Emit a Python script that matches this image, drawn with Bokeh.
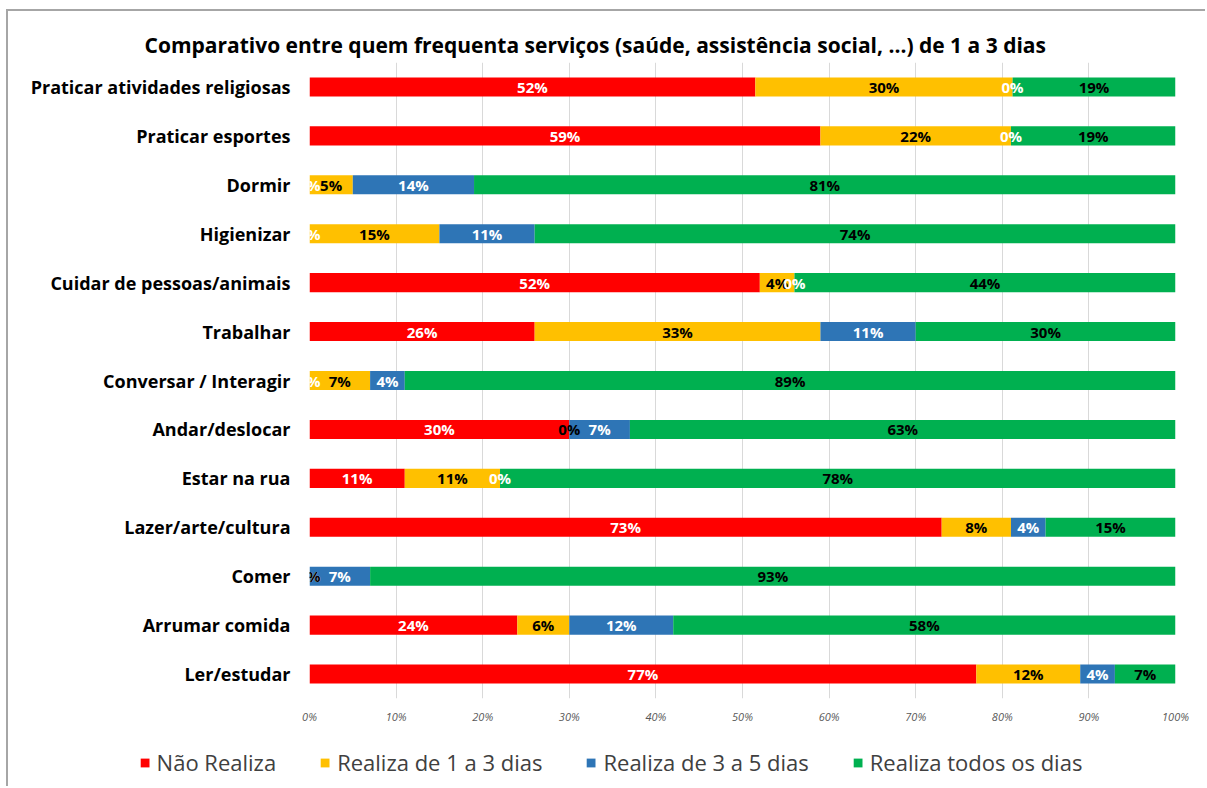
from bokeh.plotting import figure
from bokeh.layouts import column
from bokeh.models import ColumnDataSource, FactorRange, Legend, LegendItem, FixedTicker, CustomJSTickFormatter
from bokeh.core.properties import value
from bokeh.embed import file_html
from bokeh.resources import INLINE

title_text = "Comparativo entre quem frequenta serviços (saúde, assistência social, ...) de 1 a 3 dias"

categories = [
    "Praticar atividades religiosas",
    "Praticar esportes",
    "Dormir",
    "Higienizar",
    "Cuidar de pessoas/animais",
    "Trabalhar",
    "Conversar / Interagir",
    "Andar/deslocar",
    "Estar na rua",
    "Lazer/arte/cultura",
    "Comer",
    "Arrumar comida",
    "Ler/estudar",
]

series_names = ["Não Realiza", "Realiza de 1 a 3 dias", "Realiza de 3 a 5 dias", "Realiza todos os dias"]

nao_realiza = [52, 59, 0, 0, 52, 26, 0, 30, 11, 73, 0, 24, 77]
realiza_1_3 = [30, 22, 5, 15, 4, 33, 7, 0, 11, 8, 0, 6, 12]
realiza_3_5 = [0, 0, 14, 11, 0, 11, 4, 7, 0, 4, 7, 12, 4]
realiza_todos = [19, 19, 81, 74, 44, 30, 89, 63, 78, 15, 93, 58, 7]

tick_values = [0, 0.1, 0.2, 0.3, 0.4, 0.5, 0.6, 0.7, 0.8, 0.9, 1.0]
tick_labels = ["0%", "10%", "20%", "30%", "40%", "50%", "60%", "70%", "80%", "90%", "100%"]

colors = ["#FF0000", "#FFC000", "#2E75B6", "#00B050"]
label_colors = ["white", "black", "white", "black"]

series = [nao_realiza, realiza_1_3, realiza_3_5, realiza_todos]

FONT = "Open Sans"
W = 1197

p = figure(
    width=W, height=719,
    y_range=FactorRange(factors=list(reversed(categories)), range_padding=0),
    x_range=(0, 1),
    output_backend="svg", toolbar_location=None,
    min_border_left=301, min_border_right=30, min_border_top=51, min_border_bottom=32,
)
p.frame_align = False

totals = [sum(v[i] for v in series) for i in range(len(categories))]
cum = [0.0] * len(categories)
for k, vals in enumerate(series):
    left = [cum[i] / totals[i] for i in range(len(categories))]
    right = [(cum[i] + vals[i]) / totals[i] for i in range(len(categories))]
    src = ColumnDataSource(dict(y=categories, left=left, right=right))
    p.hbar(y="y", left="left", right="right", height=0.39, color=colors[k], line_color=None, source=src)
    cum = [cum[i] + vals[i] for i in range(len(categories))]

# value labels drawn after all bars
cum = [0.0] * len(categories)
for k, vals in enumerate(series):
    mid = [(cum[i] + vals[i] / 2) / totals[i] for i in range(len(categories))]
    txt = [f"{v}%" for v in vals]
    src = ColumnDataSource(dict(y=categories, mid=mid, txt=txt))
    p.text(x="mid", y="y", text="txt", source=src, text_align="center", text_baseline="middle",
           text_font=value(FONT), text_font_style="bold", text_font_size="15px", text_color=label_colors[k])
    cum = [cum[i] + vals[i] for i in range(len(categories))]

p.title.text = title_text
p.title.align = "left"
p.title.offset = -165
p.title.text_font = FONT
p.title.text_font_style = "bold"
p.title.text_font_size = "21px"
p.title.text_color = "#000000"
p.title.standoff = 8

p.xgrid.grid_line_color = "#d9d9d9"
p.ygrid.grid_line_color = None
p.outline_line_color = None

p.xaxis.ticker = FixedTicker(ticks=tick_values)
p.xaxis.formatter = CustomJSTickFormatter(args=dict(vals=tick_values, labs=tick_labels), code="""
const i = vals.findIndex(v => Math.abs(v - tick) < 1e-6);
return i >= 0 ? labs[i] : "";
""")
p.xaxis.axis_line_color = None
p.xaxis.major_tick_line_color = None
p.xaxis.minor_tick_line_color = None
p.xaxis.major_label_text_font = FONT
p.xaxis.major_label_text_font_style = "italic"
p.xaxis.major_label_text_font_size = "11px"
p.xaxis.major_label_text_color = "#595959"
p.xaxis.major_label_standoff = 4

p.yaxis.axis_line_color = None
p.yaxis.major_tick_line_color = None
p.yaxis.minor_tick_line_color = None
p.yaxis.major_label_text_font = FONT
p.yaxis.major_label_text_font_style = "bold"
p.yaxis.major_label_text_font_size = "18px"
p.yaxis.major_label_text_color = "#000000"
p.yaxis.major_label_standoff = 13

# legend strip below the chart (its swatch renderers hold one row placed outside the visible range)
lf = figure(
    width=W, height=56, x_range=(0, 1), y_range=(0, 1),
    output_backend="svg", toolbar_location=None,
    x_axis_location=None, y_axis_location=None,
    min_border_left=8, min_border_right=0, min_border_top=8, min_border_bottom=0,
)
lf.frame_align = False
lf.grid.grid_line_color = None
lf.outline_line_color = None
leg_renderers = []
for k in range(4):
    s = ColumnDataSource(dict(y=[5], left=[5], right=[5]))
    leg_renderers.append(lf.hbar(y="y", left="left", right="right", height=0.5,
                                 fill_color=colors[k], line_color=None, source=s))

legend = Legend(
    items=[LegendItem(label=series_names[k], renderers=[leg_renderers[k]]) for k in range(4)],
    orientation="horizontal",
    location="center",
    label_text_font=FONT,
    label_text_font_size="22px",
    label_text_color="#404040",
    glyph_width=11, glyph_height=11,
    spacing=43, label_standoff=7,
    border_line_color=None, background_fill_alpha=0,
    padding=0, margin=0,
)
lf.add_layout(legend, "center")

layout = column(p, lf, spacing=0)
layout.margin = (9, 0, 0, 6)
layout.styles = {"border-top": "2px solid #a6a6a6", "border-left": "2px solid #a6a6a6"}

open("out.html", "w").write(file_html(layout, INLINE))
